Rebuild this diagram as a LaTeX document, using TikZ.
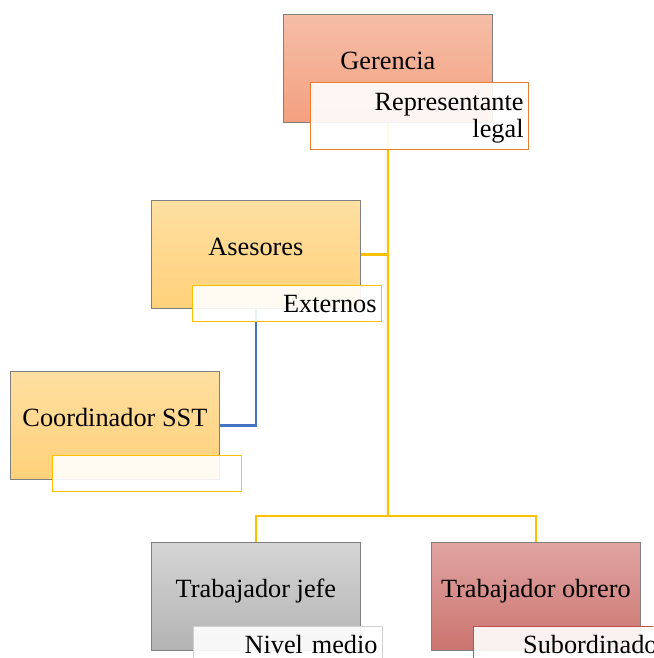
\documentclass[tikz,border=0pt]{standalone}
\usepackage{fontspec}
\setmainfont{Liberation Serif}
\usepackage{tikz}

\definecolor{gerTop}{HTML}{F5BEA7}
\definecolor{gerBot}{HTML}{F3A07F}
\definecolor{aseTop}{HTML}{FFDFA1}
\definecolor{aseBot}{HTML}{FFD17A}
\definecolor{grisTop}{HTML}{D5D5D5}
\definecolor{grisBot}{HTML}{B3B3B3}
\definecolor{rojoTop}{HTML}{E0A4A1}
\definecolor{rojoBot}{HTML}{CB746F}
\definecolor{borde}{HTML}{7F7F7F}
\definecolor{naranja}{HTML}{ED7D31}
\definecolor{oro}{HTML}{FFC000}
\definecolor{grisClaro}{HTML}{CFCFCF}
\definecolor{ladrillo}{HTML}{C0504D}
\definecolor{azul}{HTML}{4472C4}

\tikzset{
  cargo/.style={draw=borde, line width=0.8pt, anchor=north west, inner sep=0pt,
    minimum width=209pt, minimum height=108pt, text height=18pt, text depth=15pt},
  nota/.style={fill=white, fill opacity=0.9, text opacity=1, line width=1.1pt,
    anchor=north west, inner xsep=5pt, inner ysep=0pt, minimum height=36pt,
    text width=179pt, align=right},
  enlace/.style={draw=oro, line width=2.2pt},
  enlaceazul/.style={draw=azul, line width=2.2pt}
}

\begin{document}
\begin{tikzpicture}[x=1pt,y=-1pt,font=\fontsize{26.3}{27}\selectfont]
\useasboundingbox (0,0) rectangle (653,658);
\clip (0,0) rectangle (653,658);

% cajas
\node[cargo, top color=gerTop, bottom color=gerBot] (gerencia) at (283,14) {Gerencia};
\node[cargo, top color=aseTop, bottom color=aseBot] (asesores) at (151,200) {Asesores};
\node[cargo, top color=aseTop, bottom color=aseBot] (coordinador) at (10,371) {Coordinador SST};
\node[cargo, top color=grisTop, bottom color=grisBot] (jefe) at (151,542) {Trabajador jefe};
\node[cargo, top color=rojoTop, bottom color=rojoBot] (obrero) at (431,542) {Trabajador obrero};

% conectores
\coordinate (bus) at (388,516);
\draw[enlace] (gerencia.south) -- (bus);
\draw[enlace] (asesores.east) -- (asesores.east -| bus);
\draw[enlace] (jefe.north) |- (bus) -| (obrero.north);
\draw[enlaceazul] (asesores.south) |- (coordinador.east);

% notas
\node[nota, draw=naranja, text width=208pt, minimum height=67pt,
  text height=20pt, text depth=31pt] (repLegal) at (310,82) {Representante\\legal};
\node[nota, draw=oro] (externos) at (192,285) {Externos};
\node[nota, draw=oro] (coordNota) at (52,455) {};
\node[nota, draw=grisClaro] (nivelMedio) at (193,626) {Nivel medio};
\node[nota, draw=ladrillo] (subordinado) at (473,626) {Subordinado};
\end{tikzpicture}
\end{document}
